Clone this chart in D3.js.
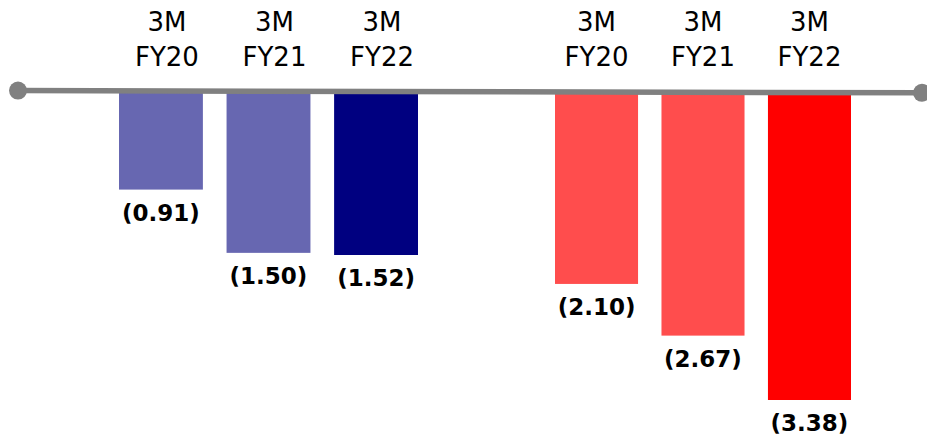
<!DOCTYPE html>
<html>
<head>
<meta charset="utf-8">
<script src="https://cdn.jsdelivr.net/npm/d3@7"></script>
<style>
  body { margin: 0; background: white; }
</style>
</head>
<body>
<div id="vis1"></div>
<script>
// data (losses shown as negatives in brackets)
let periods = ['3M FY20', '3M FY21', '3M FY22'];
let leftValues = [0.91, 1.50, 1.52];
let rightValues = [2.10, 2.67, 3.38];
let leftColors = ['#6767b1', '#6767b1', '#000080'];
let rightColors = ['#ff4d4d', '#ff4d4d', '#ff0000'];

let width = 927,
  height = 435;

let svg = d3.select('#vis1')
  .append('svg')
  .attr('width', width)
  .attr('height', height)
  .style('background-color', 'white');

// two panels, each with its own band + linear scale
let panels = [
  {
    values: leftValues, colors: leftColors,
    x: d3.scaleBand().domain(periods).range([119, 418]).paddingInner(0.22),
    y: d3.scaleLinear().domain([0, 1.52]).range([92, 255]),
    headShift: 6
  },
  {
    values: rightValues, colors: rightColors,
    x: d3.scaleBand().domain(periods).range([555, 851]).paddingInner(0.22),
    y: d3.scaleLinear().domain([0, 3.38]).range([93.5, 400]),
    headShift: 0
  }
];

panels.forEach(function (p) {
  let rows = periods.map((k, i) => ({ key: k, value: p.values[i], color: p.colors[i] }));

  let g = svg.append('g');

  g.selectAll('rect')
    .data(rows)
    .join('rect')
    .attr('x', d => p.x(d.key))
    .attr('y', p.y(0))
    .attr('width', p.x.bandwidth())
    .attr('height', d => p.y(d.value) - p.y(0))
    .attr('fill', d => d.color);

  // value labels under the bars
  g.selectAll('text.val')
    .data(rows)
    .join('text')
    .attr('class', 'val')
    .attr('x', d => p.x(d.key) + p.x.bandwidth() / 2)
    .attr('y', d => p.y(d.value) + 31)
    .attr('text-anchor', 'middle')
    .style('font-family', 'DejaVu Sans, Verdana, sans-serif')
    .style('font-weight', 'bold')
    .style('font-size', '23px')
    .style('fill', '#000')
    .text(d => '(' + d3.format('.2f')(d.value) + ')');

  // period headers, two lines
  let head = g.selectAll('text.head')
    .data(rows)
    .join('text')
    .attr('class', 'head')
    .attr('x', d => p.x(d.key) + p.x.bandwidth() / 2 + p.headShift)
    .attr('text-anchor', 'middle')
    .style('font-family', 'DejaVu Sans, Verdana, sans-serif')
    .style('font-size', '26px')
    .style('fill', '#000');

  head.append('tspan')
    .attr('x', d => p.x(d.key) + p.x.bandwidth() / 2 + p.headShift)
    .attr('y', 31)
    .text(d => d.key.split(' ')[0]);
  head.append('tspan')
    .attr('x', d => p.x(d.key) + p.x.bandwidth() / 2 + p.headShift)
    .attr('y', 66)
    .text(d => d.key.split(' ')[1]);
});

// baseline with end dots
let baseline = [[18, 90.6], [922, 92.8]];
svg.append('line')
  .attr('x1', baseline[0][0]).attr('y1', baseline[0][1])
  .attr('x2', baseline[1][0]).attr('y2', baseline[1][1])
  .attr('stroke', '#808080')
  .attr('stroke-width', 5.5);

svg.selectAll('circle')
  .data(baseline)
  .join('circle')
  .attr('cx', d => d[0])
  .attr('cy', d => d[1])
  .attr('r', 9)
  .style('fill', '#808080');
</script>
</body>
</html>
